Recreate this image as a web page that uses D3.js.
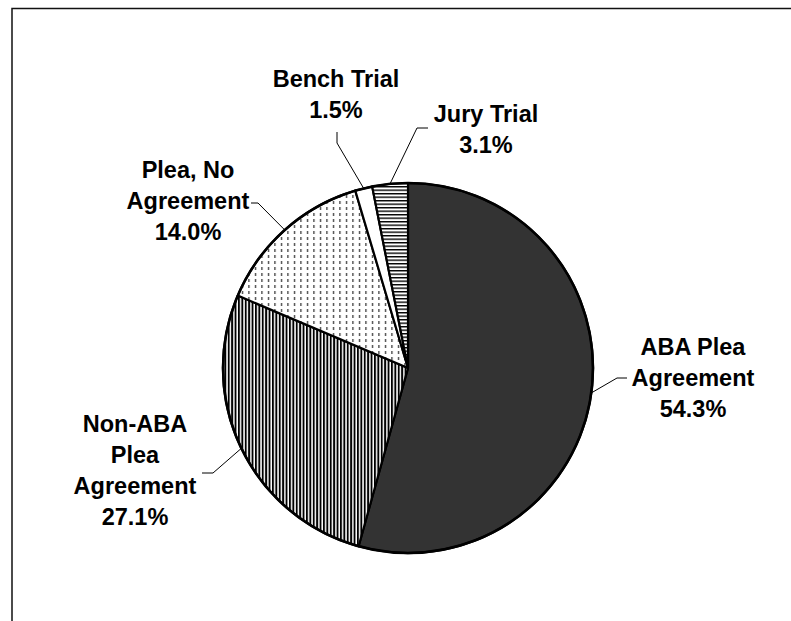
<!DOCTYPE html>
<html><head><meta charset="utf-8">
<script src="https://cdn.jsdelivr.net/npm/d3@7"></script>
<style>body{margin:0;background:#fff}svg{display:block}</style>
</head><body>
<script>
const categories = ["ABA Plea Agreement","Non-ABA Plea Agreement","Plea, No Agreement","Bench Trial","Jury Trial"];
const values = [54.3, 27.1, 14.0, 1.5, 3.1];
const labelLines = [["ABA Plea","Agreement","54.3%"],["Non-ABA","Plea","Agreement","27.1%"],["Plea, No","Agreement","14.0%"],["Bench Trial","1.5%"],["Jury Trial","3.1%"]];

const W=791,H=621, cx=408, cy=368, R=185;
const svg=d3.select("body").append("svg").attr("width",W).attr("height",H);
const defs=svg.append("defs");
// patterns
const pv=defs.append("pattern").attr("id","pv").attr("patternUnits","userSpaceOnUse").attr("width",3.4).attr("height",10);
pv.append("rect").attr("width",3.4).attr("height",10).attr("fill","#fff");
pv.append("rect").attr("x",0).attr("width",1.9).attr("height",10).attr("fill","#000");
const pd=defs.append("pattern").attr("id","pd").attr("patternUnits","userSpaceOnUse").attr("width",6.5).attr("height",6);
pd.append("rect").attr("width",6.5).attr("height",6).attr("fill","#fff");
pd.append("rect").attr("x",3).attr("y",1).attr("width",1).attr("height",3).attr("fill","#000");
const ph=defs.append("pattern").attr("id","ph").attr("patternUnits","userSpaceOnUse").attr("width",10).attr("height",3.5);
ph.append("rect").attr("width",10).attr("height",3.5).attr("fill","#fff");
ph.append("rect").attr("y",0).attr("width",10).attr("height",1.4).attr("fill","#000");
const fills=["#333333","url(#pv)","url(#pd)","#ffffff","url(#ph)"];

// frame
svg.append("path").attr("d","M12,621 L12,8.5 L791,8.5").attr("fill","none").attr("stroke","#111").attr("stroke-width",1.5);

const pie=d3.pie().sort(null).value(d=>d)(values);
const arc=d3.arc().innerRadius(0).outerRadius(R);
const g=svg.append("g").attr("transform",`translate(${cx},${cy})`);
g.selectAll("path.s").data(pie).join("path").attr("class","s").attr("d",arc)
 .attr("fill",(d,i)=>fills[i]).attr("stroke","#000").attr("stroke-width",2.2).attr("stroke-linejoin","round");
g.append("circle").attr("r",R).attr("fill","none").attr("stroke","#000").attr("stroke-width",2.6);

// labels
const lab=[
 {x:693,y:355,lead:[[617,378],[627,378]]},
 {x:135,y:432,lead:[[213,473],[202,473]]},
 {x:188,y:178,lead:[[258,203],[251,203]]},
 {x:336,y:87,lead:[[337,143],[337,132]]},
 {x:486,y:122,lead:[[417,128],[428,128]]}
];
const lh=31;
pie.forEach((d,i)=>{
  const a=(d.startAngle+d.endAngle)/2;
  const px=cx+R*Math.sin(a), py=cy-R*Math.cos(a);
  const pts=[[px,py]].concat(lab[i].lead);
  svg.append("path").attr("d",d3.line()(pts)).attr("fill","none").attr("stroke","#000").attr("stroke-width",1);
  const t=svg.append("text").attr("x",lab[i].x).attr("y",lab[i].y).attr("text-anchor","middle")
    .attr("font-family","'Liberation Sans',Arial,sans-serif").attr("font-weight","bold").attr("font-size",23.5).attr("fill","#000");
  labelLines[i].forEach((s,j)=>t.append("tspan").attr("x",lab[i].x).attr("dy",j?lh:0).text(s));
});
</script>
</body></html>
